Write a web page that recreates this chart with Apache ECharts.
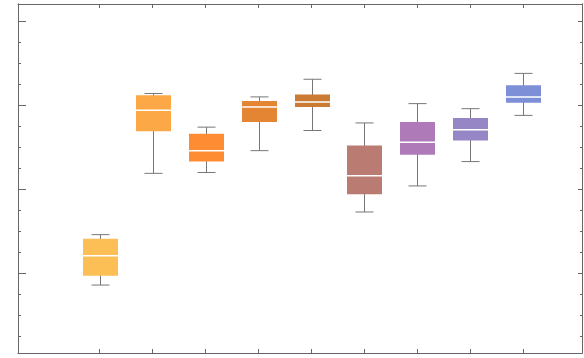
<!DOCTYPE html>
<html>
<head>
<meta charset="utf-8">
<script src="https://cdn.jsdelivr.net/npm/echarts@6/dist/echarts.min.js"></script>
<style>
  html, body { margin: 0; padding: 0; background: #fff; }
  #chart { width: 584px; height: 358px; }
</style>
</head>
<body>
<div id="chart"></div>
<script>
// box positions along x and the five-number summaries
const positions = [1, 2, 3, 4, 5, 6, 7, 8, 9]
const boxMin    = [-0.14, 1.19, 1.20, 1.46, 1.70, 0.73, 1.04, 1.33, 1.88]
const boxQ1     = [-0.03, 1.69, 1.33, 1.80, 1.98, 0.94, 1.41, 1.58, 2.03]
const boxMedian = [0.21, 1.94, 1.46, 1.98, 2.04, 1.16, 1.56, 1.71, 2.10]
const boxQ3     = [0.41, 2.12, 1.66, 2.05, 2.13, 1.52, 1.80, 1.85, 2.24]
const boxMax    = [0.46, 2.14, 1.74, 2.10, 2.31, 1.79, 2.02, 1.96, 2.38]
const boxColors = ['#fbbf55', '#fda846', '#fd8c32', '#e48534', '#cb7b34',
                   '#b97b72', '#ae7bb8', '#9786c6', '#7d8fd7']

const majorTicks = [0, 1, 2, 3]
const minorTicks = [-0.75, -0.5, -0.25, 0.25, 0.5, 0.75, 1.25, 1.5, 1.75, 2.25, 2.5, 2.75, 3.25]

const xMin = -0.538, xMax = 10.104
const yMin = -0.949, yMax = 3.206
const frameColor = '#666'

const chart = echarts.init(document.getElementById('chart'))

const data = positions.map((p, i) => [p, boxMin[i], boxQ1[i], boxMedian[i], boxQ3[i], boxMax[i]])

function xAxisDef(pos, show) {
    return {
        type: 'value', position: pos, min: xMin, max: xMax,
        axisLine: {show: true, onZero: false, lineStyle: {color: frameColor, width: 1}},
        axisTick: {show: true, inside: true, length: 4, customValues: positions,
                   lineStyle: {color: frameColor, width: 1}},
        axisLabel: {show: false},
        splitLine: {show: false}
    }
}

function yAxisDef(pos, ticks, len) {
    return {
        type: 'value', position: pos, min: yMin, max: yMax,
        axisLine: {show: true, onZero: false, lineStyle: {color: frameColor, width: 1}},
        axisTick: {show: true, inside: true, length: len, customValues: ticks,
                   lineStyle: {color: frameColor, width: 1}},
        axisLabel: {show: false},
        splitLine: {show: false}
    }
}

const option = {
    animation: false,
    grid: {left: 18, right: 2, top: 4, bottom: 5},
    xAxis: [xAxisDef('bottom'), xAxisDef('top')],
    yAxis: [
        yAxisDef('left', majorTicks, 8),
        yAxisDef('left', minorTicks, 3),
        yAxisDef('right', majorTicks, 4),
        yAxisDef('right', minorTicks, 2)
    ],
    series: [{
        type: 'custom',
        xAxisIndex: 0,
        yAxisIndex: 0,
        data: data,
        renderItem: function (params, api) {
            const x = api.value(0)
            const pMin = api.coord([x, api.value(1)])
            const pQ1 = api.coord([x, api.value(2)])
            const pMed = api.coord([x, api.value(3)])
            const pQ3 = api.coord([x, api.value(4)])
            const pMax = api.coord([x, api.value(5)])
            const cx = Math.round(pMed[0]) + 0.5
            const halfBox = 17.5, halfCap = 9
            const whisker = {stroke: '#777', lineWidth: 1}
            return {
                type: 'group',
                children: [
                    {type: 'line', shape: {x1: cx, y1: pMax[1], x2: cx, y2: pMin[1]}, style: whisker},
                    {type: 'line', shape: {x1: cx - halfCap, y1: pMax[1], x2: cx + halfCap, y2: pMax[1]}, style: whisker},
                    {type: 'line', shape: {x1: cx - halfCap, y1: pMin[1], x2: cx + halfCap, y2: pMin[1]}, style: whisker},
                    {type: 'rect', shape: {x: cx - halfBox, y: pQ3[1], width: halfBox * 2, height: pQ1[1] - pQ3[1]},
                     style: {fill: boxColors[params.dataIndex]}},
                    {type: 'line', shape: {x1: cx - halfBox, y1: pMed[1], x2: cx + halfBox, y2: pMed[1]},
                     style: {stroke: '#fff', lineWidth: 1.5}}
                ]
            }
        }
    }]
}

chart.setOption(option)
</script>
</body>
</html>
